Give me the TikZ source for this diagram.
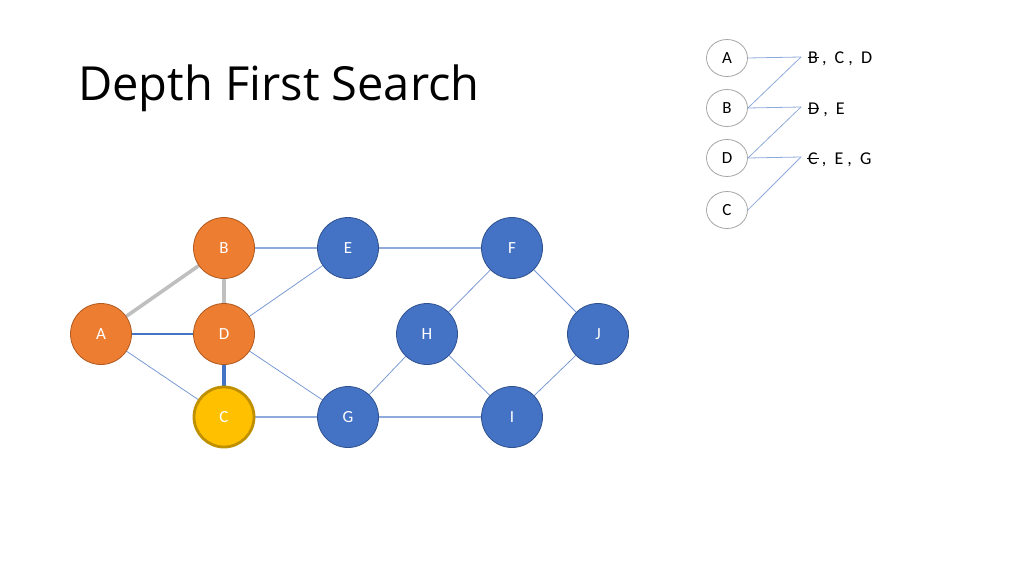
\documentclass[tikz,border=0pt]{standalone}
\usepackage{fontspec}
\setmainfont{Carlito}
\newfontfamily\titlefont{Open Sans}
\usetikzlibrary{shapes.geometric,backgrounds}
\definecolor{orfill}{HTML}{ED7D31}
\definecolor{ordraw}{HTML}{AE5A21}
\definecolor{blfill}{HTML}{4472C4}
\definecolor{bldraw}{HTML}{2F528F}
\definecolor{ylfill}{HTML}{FFC000}
\definecolor{yldraw}{HTML}{BF9000}
\definecolor{edgeblue}{HTML}{4472C4}
\definecolor{edgelight}{HTML}{8FAADC}
\definecolor{visited}{HTML}{BFBFBF}
\definecolor{stackline}{HTML}{8FAADC}
\newcommand\strk[1]{\ooalign{#1\cr\hidewidth\rule[0.32em]{0.62em}{0.5pt}\hidewidth\cr}}
\tikzset{
  vtx/.style={circle, minimum size=61pt, inner sep=0pt, text=white, font=\fontsize{17}{19}\selectfont, line width=0.8pt},
  orange/.style={vtx, fill=orfill, draw=ordraw},
  blue/.style={vtx, fill=blfill, draw=bldraw},
  yellow/.style={vtx, fill=ylfill, draw=yldraw, line width=2.8pt, minimum size=60pt},
  thinedge/.style={draw=edgeblue!75, line width=0.75pt},
  lightedge/.style={draw=edgelight, line width=1.1pt},
  visitedge/.style={draw=visited, line width=3.6pt},
  pathedge/.style={draw=edgeblue, line width=1.8pt},
  curedge/.style={draw=edgeblue, line width=3.6pt},
  stk/.style={ellipse, minimum width=41pt, minimum height=37pt, inner sep=0pt, draw=black!35, line width=0.8pt, font=\fontsize{17}{19}\selectfont},
  stktext/.style={anchor=west, inner sep=0pt, font=\fontsize{18}{20}\selectfont},
  stkline/.style={draw=stackline, line width=0.8pt}
}
\begin{document}
\begin{tikzpicture}[x=1pt,y=-1pt]
\useasboundingbox (0,0) rectangle (1024,575);
\node[anchor=base west, inner sep=0pt, font=\titlefont\fontsize{47}{52}\selectfont] (title) at (78,101) {Depth First Search};

% graph
\node[orange] (A) at (101,334) {A};
\node[orange] (B) at (224,248) {B};
\node[orange] (D) at (224,334) {D};
\node[yellow] (C) at (224,417) {C};
\node[blue] (E) at (348,248) {E};
\node[blue] (G) at (348,417) {G};
\node[blue] (F) at (512,248) {F};
\node[blue] (H) at (427,334) {H};
\node[blue] (J) at (598,334) {J};
\node[blue] (I) at (512,417) {I};

\begin{scope}[on background layer]
\path[visitedge] (A.center) -- (B.center);
\path[visitedge] (B.center) -- (D.center);
\path[pathedge] (A.center) -- (D.center);
\path[curedge] (D.center) -- (C.center);
\path[thinedge] (A.center) -- (C.center);
\path[lightedge] (B.center) -- (E.center);
\path[thinedge] (D.center) -- (E.center);
\path[thinedge] (D.center) -- (G.center);
\path[lightedge] (C.center) -- (G.center);
\path[lightedge] (E.center) -- (F.center);
\path[thinedge] (F.center) -- (H.center);
\path[thinedge] (F.center) -- (J.center);
\path[thinedge] (H.center) -- (G.center);
\path[thinedge] (H.center) -- (I.center);
\path[lightedge] (G.center) -- (I.center);
\path[thinedge] (I.center) -- (J.center);
\end{scope}

% stack
\node[stk] (sA) at (727,58) {A};
\node[stk] (sB) at (727,108) {B};
\node[stk] (sD) at (727,158) {D};
\node[stk] (sC) at (727,210) {C};
\coordinate (p1) at (801,57);
\coordinate (p2) at (801,107);
\coordinate (p3) at (801,157);
\node[stktext] (t1) at (808,59) {\strk{B}\ ,\ \ C\ ,\ \ D};
\node[stktext] (t2) at (808,110) {\strk{D}\ ,\ \ E};
\node[stktext] (t3) at (808,160) {\strk{C}\ ,\ \ E\ ,\ \ G};
\path[stkline] (sA.east) -- (p1);
\path[stkline] (sB.east) -- (p1);
\path[stkline] (sB.east) -- (p2);
\path[stkline] (sD.east) -- (p2);
\path[stkline] (sD.east) -- (p3);
\path[stkline] (sC.east) -- (p3);
\end{tikzpicture}
\end{document}
